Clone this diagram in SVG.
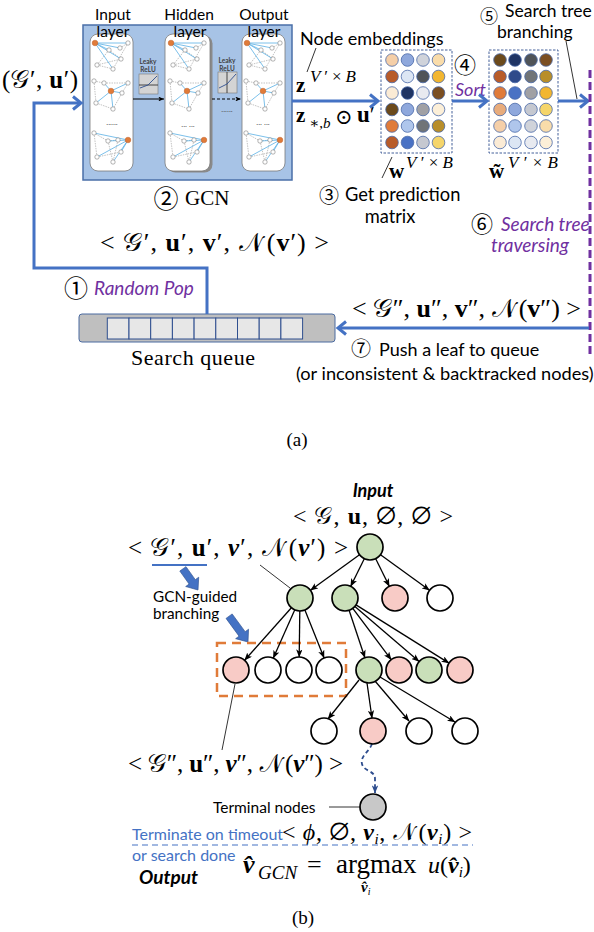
<svg xmlns="http://www.w3.org/2000/svg" xmlns:xlink="http://www.w3.org/1999/xlink" width="594" height="932" viewBox="0 0 594 932">
<defs>
<style>
.sans{font-family:Lato,"Open Sans","DejaVu Sans",sans-serif;}
.serif{font-family:"Liberation Serif","DejaVu Serif",serif;}
.math{font-family:"Liberation Serif","DejaVu Serif","Noto Sans Math",serif;}
.b{font-weight:bold;}
.i{font-style:italic;}
.circ{font-family:"Noto Sans CJK JP","DejaVu Sans",sans-serif;}
.purple{fill:#7030A0;}
.blueline{stroke:#4472C4;stroke-width:3;fill:none;}
.chev{stroke:#4472C4;stroke-width:3;fill:none;stroke-linejoin:miter;stroke-linecap:butt;}
.edge{stroke:#000;stroke-width:1.3;fill:none;marker-end:url(#ah);}
.ptr{stroke:#000;stroke-width:0.8;fill:none;}
.tn{stroke:#000;stroke-width:1.7;}
.g{fill:#C9DFB9;}
.p{fill:#F8CBC6;}
.w{fill:#fff;}
.mc{stroke:#4A6AA8;stroke-width:0.8;}
.gn{fill:#fff;stroke:#808080;stroke-width:0.6;}
.on{fill:#E07B39;stroke:#C0602A;stroke-width:0.5;}
.be{stroke:#5AB0E4;stroke-width:0.8;}
.ge{stroke:#9A9A9A;stroke-width:0.6;stroke-dasharray:1.5,1;}
.col{fill:#fff;stroke:#7A7A7A;stroke-width:0.8;}
.dots{font-family:Lato,"DejaVu Sans",sans-serif;font-size:8px;fill:#555;}
.fat{fill:#4472C4;stroke:#2F528F;stroke-width:0.6;}
</style>
<marker id="ah" viewBox="0 0 10 8" refX="9.5" refY="4" markerWidth="8" markerHeight="6.4" orient="auto" markerUnits="userSpaceOnUse">
<path d="M0,0 L10,4 L0,8 L2.5,4 z" fill="#000"/>
</marker>
<marker id="ahs" viewBox="0 0 10 8" refX="9.5" refY="4" markerWidth="6" markerHeight="4.8" orient="auto" markerUnits="userSpaceOnUse">
<path d="M0,0 L10,4 L0,8 L2.5,4 z" fill="#000"/>
</marker>
<marker id="ahb" viewBox="0 0 10 8" refX="9.5" refY="4" markerWidth="8" markerHeight="6.4" orient="auto" markerUnits="userSpaceOnUse">
<path d="M0,0 L10,4 L0,8 L2.5,4 z" fill="#2E4D8E"/>
</marker>
<g id="g1">
<line class="ge" x1="17" y1="10" x2="5" y2="25"/><line class="ge" x1="17" y1="10" x2="29" y2="19"/><line class="ge" x1="36" y1="3" x2="21" y2="29"/><line class="ge" x1="28" y1="8" x2="36" y2="3"/><line class="ge" x1="5" y1="25" x2="29" y2="19"/><line class="ge" x1="5" y1="25" x2="21" y2="29"/>
<line class="be" x1="3" y1="3" x2="17" y2="10"/><line class="be" x1="3" y1="3" x2="36" y2="3"/><line class="be" x1="3" y1="3" x2="29" y2="19"/><line class="be" x1="3" y1="3" x2="21" y2="29"/><line class="be" x1="3" y1="3" x2="28" y2="8"/>
<circle class="gn" cx="17" cy="10" r="2.2"/><circle class="gn" cx="28" cy="8" r="2.2"/><circle class="gn" cx="36" cy="3" r="2.2"/><circle class="gn" cx="5" cy="25" r="2.2"/><circle class="gn" cx="21" cy="29" r="2.2"/><circle class="gn" cx="29" cy="19" r="2.2"/>
<circle class="on" cx="3" cy="3" r="2.8"/>
</g>
<g id="g2">
<line class="ge" x1="2" y1="2" x2="12" y2="4"/><line class="ge" x1="2" y1="2" x2="4" y2="24"/><line class="ge" x1="12" y1="4" x2="36" y2="4"/><line class="ge" x1="30" y1="14" x2="21" y2="30"/><line class="ge" x1="4" y1="24" x2="21" y2="30"/><line class="ge" x1="36" y1="4" x2="30" y2="14"/>
<line class="be" x1="19" y1="12" x2="36" y2="4"/><line class="be" x1="19" y1="12" x2="4" y2="24"/><line class="be" x1="19" y1="12" x2="21" y2="30"/><line class="be" x1="19" y1="12" x2="30" y2="14"/><line class="be" x1="19" y1="12" x2="12" y2="4"/>
<circle class="gn" cx="2" cy="2" r="2.2"/><circle class="gn" cx="12" cy="4" r="2.2"/><circle class="gn" cx="36" cy="4" r="2.2"/><circle class="gn" cx="4" cy="24" r="2.2"/><circle class="gn" cx="21" cy="30" r="2.2"/><circle class="gn" cx="30" cy="14" r="2.2"/>
<circle class="on" cx="19" cy="12" r="2.8"/>
</g>
<g id="g3">
<line class="ge" x1="2" y1="2" x2="16" y2="10"/><line class="ge" x1="2" y1="2" x2="5" y2="26"/><line class="ge" x1="16" y1="10" x2="26" y2="9"/><line class="ge" x1="26" y1="9" x2="21" y2="31"/><line class="ge" x1="5" y1="26" x2="29" y2="21"/><line class="ge" x1="16" y1="10" x2="21" y2="31"/>
<line class="be" x1="36" y1="9" x2="2" y2="2"/><line class="be" x1="36" y1="9" x2="16" y2="10"/><line class="be" x1="36" y1="9" x2="5" y2="26"/><line class="be" x1="36" y1="9" x2="21" y2="31"/><line class="be" x1="36" y1="9" x2="29" y2="21"/>
<circle class="gn" cx="2" cy="2" r="2.2"/><circle class="gn" cx="16" cy="10" r="2.2"/><circle class="gn" cx="26" cy="9" r="2.2"/><circle class="gn" cx="5" cy="26" r="2.2"/><circle class="gn" cx="21" cy="31" r="2.2"/><circle class="gn" cx="29" cy="21" r="2.2"/>
<circle class="on" cx="36" cy="9" r="2.8"/>
</g>
</defs>
<rect width="594" height="932" fill="#fff"/>

<!-- ===== (a) ===== -->
<g id="gcn">
<rect x="83" y="25" width="209" height="155" fill="#A7C3E6" stroke="#4A6FA8" stroke-width="1.5"/>
<rect class="col" x="90" y="34" width="43" height="137" rx="8"/>
<rect x="167.5" y="35.5" width="45" height="137" rx="8" fill="#8A8A8A"/>
<rect class="col" x="165" y="34" width="45" height="137" rx="8"/>
<rect class="col" x="242" y="34" width="43" height="137" rx="8"/>
<use xlink:href="#g1" x="92" y="40"/><use xlink:href="#g2" x="92" y="79"/><use xlink:href="#g3" x="92" y="131"/>
<use xlink:href="#g1" x="168" y="40"/><use xlink:href="#g2" x="168" y="79"/><use xlink:href="#g3" x="168" y="131"/>
<use xlink:href="#g1" x="244" y="40"/><use xlink:href="#g2" x="244" y="79"/><use xlink:href="#g3" x="244" y="131"/>
<text class="dots" x="112" y="125" text-anchor="middle">......</text>
<text class="dots" x="188" y="127" text-anchor="middle">... ...</text>
<text class="dots" x="263" y="125" text-anchor="middle">... ...</text>
<text class="dots" x="227" y="112" text-anchor="middle">......</text>
<text class="sans" font-size="15.5" text-anchor="middle" x="113" y="20">Input</text>
<text class="sans" font-size="15.5" text-anchor="middle" x="189" y="20">Hidden</text>
<text class="sans" font-size="15.5" text-anchor="middle" x="264" y="20">Output</text>
<text class="sans" font-size="15.5" text-anchor="middle" x="113" y="37">layer</text>
<text class="sans" font-size="15.5" text-anchor="middle" x="190" y="37">layer</text>
<text class="sans" font-size="15.5" text-anchor="middle" x="264" y="37">layer</text>
<g id="relu1">
<text class="sans b" font-size="6.5" fill="#404040" text-anchor="middle" x="148" y="64">Leaky</text>
<text class="sans b" font-size="6.5" fill="#404040" text-anchor="middle" x="148" y="72">ReLU</text>
<rect x="139" y="74" width="19" height="20" fill="#D4D4D4" stroke="#777" stroke-width="0.6"/>
<line x1="139" y1="85" x2="158" y2="85" stroke="#222" stroke-width="0.8"/>
<polyline points="140,88 148,85 157,76" fill="none" stroke="#2F4F8F" stroke-width="0.9"/>
</g>
<g id="relu2">
<text class="sans b" font-size="6.5" fill="#404040" text-anchor="middle" x="227" y="63">Leaky</text>
<text class="sans b" font-size="6.5" fill="#404040" text-anchor="middle" x="227" y="71">ReLU</text>
<rect x="218" y="72" width="19" height="21" fill="#D4D4D4" stroke="#777" stroke-width="0.6"/>
<line x1="227" y1="72" x2="227" y2="93" stroke="#222" stroke-width="0.8"/>
<polyline points="219,88 227,84 236,74" fill="none" stroke="#2F4F8F" stroke-width="0.9"/>
</g>
<line x1="133" y1="99" x2="164" y2="99" stroke="#000" stroke-width="1" marker-end="url(#ahs)"/>
<line x1="212" y1="99" x2="241" y2="99" stroke="#000" stroke-width="1" stroke-dasharray="3,2" marker-end="url(#ahs)"/>
</g>
<g id="gcn-label">
<text class="circ" font-size="25" x="166" y="208" text-anchor="middle">②</text>
<text class="serif" font-size="21" x="185" y="205">GCN</text>
</g>

<g id="input-label">
<text class="math" font-size="25" x="2" y="88" textLength="76">(𝒢′, <tspan class="b">u</tspan>′)</text>
</g>

<g id="embeddings-label">
<text class="sans" font-size="18" x="300" y="45">Node embeddings</text>
<line class="ptr" x1="316" y1="48" x2="307" y2="72"/>
<text class="math b" font-size="21" x="296" y="92">z</text>
<text class="math" font-size="17" x="310" y="82" textLength="46"><tspan class="i">V</tspan>′×<tspan class="i">B</tspan></text>
<text class="math b" font-size="21" x="296" y="122">z</text>
<text class="math" font-size="15" x="309" y="128">∗,<tspan class="i">b</tspan></text>
<text class="math" font-size="21" x="335" y="124">⊙</text>
<text class="math" font-size="23" x="357" y="122"><tspan class="b">u</tspan>′</text>
</g>

<g id="matrix1">
<rect x="381" y="50" width="71" height="103" fill="none" stroke="#2F4F8F" stroke-width="0.9" stroke-dasharray="2.5,1.5"/>
<g class="mc">
<circle cx="392" cy="60" r="6.3" fill="#F5CFA8"/><circle cx="407.5" cy="60" r="6.3" fill="#8FA8DC"/><circle cx="423" cy="60" r="6.3" fill="#D0D3DA"/><circle cx="438.5" cy="60" r="6.3" fill="#F9DCAA"/>
<circle cx="392" cy="76.5" r="6.3" fill="#B85C2A"/><circle cx="407.5" cy="76.5" r="6.3" fill="#DCE6F4"/><circle cx="423" cy="76.5" r="6.3" fill="#505458"/><circle cx="438.5" cy="76.5" r="6.3" fill="#F2B630"/>
<circle cx="392" cy="93" r="6.3" fill="#FBEBD5"/><circle cx="407.5" cy="93" r="6.3" fill="#1F3464"/><circle cx="423" cy="93" r="6.3" fill="#E8EAF0"/><circle cx="438.5" cy="93" r="6.3" fill="#7B4F22"/>
<circle cx="392" cy="109.5" r="6.3" fill="#6B4A1C"/><circle cx="407.5" cy="109.5" r="6.3" fill="#8FA8DC"/><circle cx="423" cy="109.5" r="6.3" fill="#A0A0A4"/><circle cx="438.5" cy="109.5" r="6.3" fill="#FCEFD8"/>
<circle cx="392" cy="126" r="6.3" fill="#E07B3A"/><circle cx="407.5" cy="126" r="6.3" fill="#AFC6EC"/><circle cx="423" cy="126" r="6.3" fill="#707478"/><circle cx="438.5" cy="126" r="6.3" fill="#B88E2A"/>
<circle cx="392" cy="142.5" r="6.3" fill="#B85C2A"/><circle cx="407.5" cy="142.5" r="6.3" fill="#4A72C4"/><circle cx="423" cy="142.5" r="6.3" fill="#C5C8D0"/><circle cx="438.5" cy="142.5" r="6.3" fill="#F5D56A"/>
</g>
<line class="ptr" x1="382" y1="178" x2="392" y2="157"/>
<text class="math b" font-size="21" x="389" y="178">w</text>
<text class="math" font-size="17" x="406" y="168" textLength="47"><tspan class="i">V</tspan>′×<tspan class="i">B</tspan></text>
</g>

<g id="sort-label">
<text class="circ" font-size="22" x="465" y="73" text-anchor="middle">④</text>
<text class="sans i purple" font-size="18" x="455" y="96">Sort</text>
</g>

<g id="matrix2">
<rect x="489" y="50" width="69" height="103" fill="none" stroke="#2F4F8F" stroke-width="0.9" stroke-dasharray="2.5,1.5"/>
<g class="mc">
<circle cx="500" cy="60" r="6.3" fill="#6B4A1C"/><circle cx="515" cy="60" r="6.3" fill="#1F3464"/><circle cx="531" cy="60" r="6.3" fill="#505458"/><circle cx="546" cy="60" r="6.3" fill="#7B4F22"/>
<circle cx="500" cy="76.5" r="6.3" fill="#B85C2A"/><circle cx="515" cy="76.5" r="6.3" fill="#2E4A8A"/><circle cx="531" cy="76.5" r="6.3" fill="#707478"/><circle cx="546" cy="76.5" r="6.3" fill="#B88E2A"/>
<circle cx="500" cy="93" r="6.3" fill="#E07B3A"/><circle cx="515" cy="93" r="6.3" fill="#4A72C4"/><circle cx="531" cy="93" r="6.3" fill="#A0A0A4"/><circle cx="546" cy="93" r="6.3" fill="#F2B630"/>
<circle cx="500" cy="109.5" r="6.3" fill="#E8AC7C"/><circle cx="515" cy="109.5" r="6.3" fill="#8FA8DC"/><circle cx="531" cy="109.5" r="6.3" fill="#C5C8D0"/><circle cx="546" cy="109.5" r="6.3" fill="#F5D56A"/>
<circle cx="500" cy="126" r="6.3" fill="#F5CFA8"/><circle cx="515" cy="126" r="6.3" fill="#AFC6EC"/><circle cx="531" cy="126" r="6.3" fill="#D0D3DA"/><circle cx="546" cy="126" r="6.3" fill="#F9DCAA"/>
<circle cx="500" cy="142.5" r="6.3" fill="#FBEBD5"/><circle cx="515" cy="142.5" r="6.3" fill="#DCE6F4"/><circle cx="531" cy="142.5" r="6.3" fill="#E8EAF0"/><circle cx="546" cy="142.5" r="6.3" fill="#FCEFD8"/>
</g>
<text class="math b" font-size="21" x="489" y="178">w̃</text>
<text class="math" font-size="17" x="508" y="168" textLength="50"><tspan class="i">V</tspan>′×<tspan class="i">B</tspan></text>
</g>

<g id="branching-label">
<text class="circ" font-size="18" x="489" y="23" text-anchor="middle">⑤</text>
<text class="sans" font-size="17.5" x="505" y="17">Search tree</text>
<text class="sans" font-size="17.5" x="497" y="38">branching</text>
<line class="ptr" x1="566" y1="41" x2="577" y2="99"/>
</g>

<g id="prediction-label">
<text class="circ" font-size="20" x="329" y="203" text-anchor="middle">③</text>
<text class="sans" font-size="18.3" x="345" y="201">Get prediction</text>
<text class="sans" font-size="18.3" x="390" y="223" text-anchor="middle">matrix</text>
</g>

<g id="traversing-label">
<text class="circ" font-size="22" x="482" y="232" text-anchor="middle">⑥</text>
<text class="sans i purple" font-size="19" x="501" y="231">Search tree</text>
<text class="sans i purple" font-size="19" x="530" y="252" text-anchor="middle">traversing</text>
</g>

<g id="state-labels">
<text class="math" font-size="26" x="100" y="251" textLength="229">&lt; 𝒢′, <tspan class="b">u</tspan>′, <tspan class="b">v</tspan>′, 𝒩(<tspan class="b">v</tspan>′) &gt;</text>
<text class="math" font-size="26" x="352" y="317" textLength="229">&lt; 𝒢″, <tspan class="b">u</tspan>″, <tspan class="b">v</tspan>″, 𝒩(<tspan class="b">v</tspan>″) &gt;</text>
</g>

<g id="pop-label">
<text class="circ" font-size="24" x="76" y="297" text-anchor="middle">①</text>
<text class="sans i purple" font-size="19" x="94" y="295">Random Pop</text>
</g>

<g id="queue">
<rect x="79" y="314" width="256" height="28" rx="3" fill="#BFBFBF" stroke="#4A6AA0" stroke-width="1"/>
<g fill="#E7E7E7" stroke="#2F4F8F" stroke-width="1">
<rect x="107.3" y="318" width="21.7" height="21"/><rect x="129" y="318" width="21.7" height="21"/><rect x="150.7" y="318" width="21.7" height="21"/><rect x="172.4" y="318" width="21.7" height="21"/><rect x="194.1" y="318" width="21.7" height="21"/><rect x="215.8" y="318" width="21.7" height="21"/><rect x="237.5" y="318" width="21.7" height="21"/><rect x="259.2" y="318" width="21.7" height="21"/><rect x="280.9" y="318" width="21.7" height="21"/>
</g>
<text class="serif" font-size="22" x="131" y="365" textLength="124">Search queue</text>
</g>

<g id="push-label">
<text class="circ" font-size="20" x="361" y="356" text-anchor="middle">⑦</text>
<text class="sans" font-size="18" x="379" y="356">Push a leaf to queue</text>
<text class="sans" font-size="18.2" x="296" y="380">(or inconsistent &amp; backtracked nodes)</text>
</g>

<g id="connectors-a">
<polyline class="blueline" points="207,314 207,268 34,268 34,103 81,103"/>
<polyline class="chev" points="73,96.5 81,103 73,109.5"/>
<line class="blueline" x1="292" y1="101" x2="378" y2="101"/>
<polyline class="chev" points="370,94.5 378,101 370,107.5"/>
<line class="blueline" x1="452" y1="101" x2="487" y2="101"/>
<polyline class="chev" points="479,94.5 487,101 479,107.5"/>
<line class="blueline" x1="558" y1="101" x2="588" y2="101"/>
<polyline class="chev" points="580,94.5 588,101 580,107.5"/>
<line x1="590" y1="70" x2="590" y2="356" stroke="#7030A0" stroke-width="3" stroke-dasharray="8,4"/>
<line class="blueline" x1="589" y1="328" x2="338" y2="328"/>
<polyline class="chev" points="346,321.5 338,328 346,334.5"/>
</g>

<text class="serif" font-size="19" x="297" y="446" text-anchor="middle">(a)</text>

<!-- ===== (b) ===== -->
<g id="tree-labels">
<text class="sans b i" font-size="18" x="373" y="497" text-anchor="middle">Input</text>
<text class="math" font-size="24" x="293" y="524" textLength="160">&lt; 𝒢, <tspan class="b">u</tspan>, ∅, ∅ &gt;</text>
<text class="math" font-size="25" x="128" y="556" textLength="220">&lt; 𝒢′, <tspan class="b">u</tspan>′, <tspan class="b i">v</tspan>′, 𝒩(<tspan class="b i">v</tspan>′) &gt;</text>
<line x1="152" y1="565" x2="207" y2="565" stroke="#4472C4" stroke-width="2"/>
<text class="sans" font-size="15.3" x="153" y="602">GCN-guided</text>
<text class="sans" font-size="15.3" x="153" y="619">branching</text>
<text class="math" font-size="25" x="128" y="772" textLength="215">&lt; 𝒢″, <tspan class="b">u</tspan>″, <tspan class="b i">v</tspan>″, 𝒩(<tspan class="b i">v</tspan>″) &gt;</text>
<text class="sans" font-size="15.5" x="213" y="813">Terminal nodes</text>
<text class="sans" font-size="16" x="132" y="840" fill="#4472C4">Terminate on timeout</text>
<text class="math" font-size="24" x="282" y="840" textLength="190">&lt; <tspan class="i">ϕ</tspan>, ∅, <tspan class="b i">v</tspan><tspan class="i" font-size="15" dy="4">i</tspan><tspan dy="-4">, 𝒩(</tspan><tspan class="b i">v</tspan><tspan class="i" font-size="15" dy="4">i</tspan><tspan dy="-4">) &gt;</tspan></text>
<line x1="132" y1="845" x2="473" y2="845" stroke="#4472C4" stroke-width="1.2" stroke-dasharray="6,4"/>
<text class="sans" font-size="16" x="132" y="861" fill="#4472C4">or search done</text>
<text class="sans b i" font-size="19" x="139" y="884">Output</text>
<text class="math b i" font-size="26" x="243" y="873">v̂</text>
<text class="math i" font-size="19" x="258" y="879">GCN</text>
<text class="math" font-size="26" x="307" y="873">=</text>
<text class="math" font-size="27" x="336" y="873">argmax</text>
<text class="math" font-size="24" x="428" y="873"><tspan class="i">u</tspan>(<tspan class="b i">v̂</tspan><tspan class="i" font-size="15" dy="4">i</tspan><tspan dy="-4">)</tspan></text>
<text class="math" font-size="15" x="361" y="892"><tspan class="b i">v̂</tspan><tspan class="i" font-size="10" dy="3">i</tspan></text>
</g>

<g id="gcn-arrows">
<polygon class="fat" points="-26,-3.8 -10,-3.8 -10,-8 0,0 -10,8 -10,3.8 -26,3.8" transform="translate(198,590) rotate(54.5)"/>
<polygon class="fat" points="-32,-3.8 -10,-3.8 -10,-8 0,0 -10,8 -10,3.8 -32,3.8" transform="translate(248,642) rotate(53.8)"/>
</g>

<rect id="branch-box" x="217" y="643" width="129" height="53" fill="none" stroke="#E07B39" stroke-width="2.5" stroke-dasharray="9,6"/>

<g id="connectors">
<line class="ptr" x1="260" y1="565" x2="290" y2="588"/>
<line class="ptr" x1="235" y1="684" x2="222" y2="750"/>
<line class="ptr" x1="329" y1="807" x2="360" y2="807" stroke-width="1"/>
<line class="edge" x1="359.5" y1="554.7" x2="310.5" y2="590.3"/>
<line class="edge" x1="364.3" y1="558.7" x2="350.7" y2="586.3"/>
<line class="edge" x1="375.7" y1="558.7" x2="389.3" y2="586.3"/>
<line class="edge" x1="380.5" y1="554.7" x2="429.5" y2="590.3"/>
<line class="edge" x1="291.4" y1="607.7" x2="244.6" y2="660.3"/>
<line class="edge" x1="294.7" y1="609.9" x2="273.3" y2="658.1"/>
<line class="edge" x1="299.8" y1="611" x2="299.2" y2="657"/>
<line class="edge" x1="304.9" y1="610.1" x2="324.1" y2="657.9"/>
<line class="edge" x1="349.1" y1="610.3" x2="364.9" y2="657.7"/>
<line class="edge" x1="352.8" y1="608.4" x2="391.2" y2="659.6"/>
<line class="edge" x1="354.9" y1="606.5" x2="419.1" y2="661.5"/>
<line class="edge" x1="356" y1="604.9" x2="449" y2="663.1"/>
<line class="edge" x1="359" y1="680" x2="328" y2="719"/>
<line class="edge" x1="367" y1="683" x2="372" y2="718"/>
<line class="edge" x1="375" y1="681" x2="409" y2="721"/>
<line class="edge" x1="380" y1="677" x2="455" y2="722"/>
<path d="M372,744 C369,752 360,756 362,764 C364,772 375,770 375,779 L375,793" fill="none" stroke="#2E4D8E" stroke-width="1.8" stroke-dasharray="4,3" marker-end="url(#ahb)"/>
</g>

<g id="n-root"><circle class="tn g" cx="370" cy="547" r="13"/></g>
<g id="n-a"><circle class="tn g" cx="300" cy="598" r="13"/></g>
<g id="n-b"><circle class="tn g" cx="345" cy="598" r="13"/></g>
<g id="n-c"><circle class="tn p" cx="395" cy="598" r="13"/></g>
<g id="n-d"><circle class="tn w" cx="440" cy="598" r="13"/></g>
<g id="n-a1"><circle class="tn p" cx="236" cy="670" r="13"/></g>
<g id="n-a2"><circle class="tn w" cx="268" cy="670" r="13"/></g>
<g id="n-a3"><circle class="tn w" cx="299" cy="670" r="13"/></g>
<g id="n-a4"><circle class="tn w" cx="329" cy="670" r="13"/></g>
<g id="n-b1"><circle class="tn g" cx="369" cy="670" r="13"/></g>
<g id="n-b2"><circle class="tn p" cx="399" cy="670" r="13"/></g>
<g id="n-b3"><circle class="tn g" cx="429" cy="670" r="13"/></g>
<g id="n-b4"><circle class="tn p" cx="460" cy="670" r="13"/></g>
<g id="n-c1"><circle class="tn w" cx="324" cy="731" r="13"/></g>
<g id="n-c2"><circle class="tn p" cx="373" cy="731" r="13"/></g>
<g id="n-c3"><circle class="tn w" cx="419" cy="731" r="13"/></g>
<g id="n-c4"><circle class="tn w" cx="465" cy="731" r="13"/></g>
<g id="n-term"><circle class="tn" cx="373" cy="807" r="13" fill="#C8C8C8"/></g>

<text class="serif" font-size="19" x="303" y="924" text-anchor="middle">(b)</text>
</svg>
